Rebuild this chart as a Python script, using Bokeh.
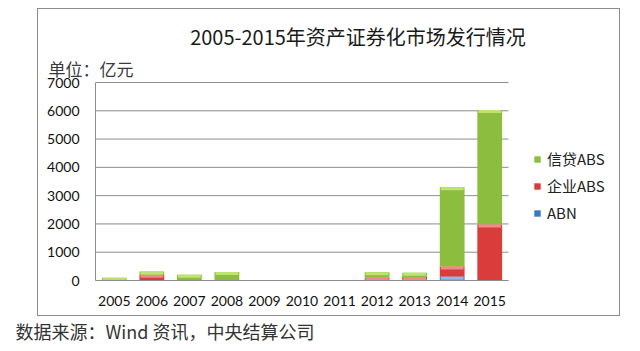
from bokeh.plotting import figure
from bokeh.models import (ColumnDataSource, Title, Legend, LegendItem, InlineStyleSheet,
                          FixedTicker, Range1d)
from bokeh.embed import file_html
from bokeh.resources import INLINE

# ---------------- data ----------------
years = ["2005", "2006", "2007", "2008", "2009", "2010", "2011",
         "2012", "2013", "2014", "2015"]
abn = [0, 0, 0, 0, 0, 0, 0, 40, 40, 130, 10]
qiye_abs = [30, 200, 20, 0, 0, 0, 0, 60, 80, 365, 1970]
xindai_abs = [70, 115, 180, 300, 0, 0, 0, 190, 155, 2800, 4050]
y_ticks = [0, 1000, 2000, 3000, 4000, 5000, 6000, 7000]

series_names = ["ABN", "企业ABS", "信贷ABS"]
title_text = "2005-2015年资产证券化市场发行情况"
unit_text = "单位：亿元"
source_text = "数据来源：Wind 资讯，中央结算公司"

# ---------------- styles ----------------
W, H = 640, 351
FL, FR, FT, FB = 95, 620, 81, 280   # frame edges (frame also holds the legend)
BARS_R = 508                        # right end of the category area
fill_colors = ["#3b78c4", "#d93c3a", "#8dbd3e"]
light_colors = ["#8fb9ec", "#f08a88", "#bde46e"]
grid_color = "#8c8c8c"
CJK = "Noto Sans CJK SC"
NUM = "Lato"

n = len(years)
idx = list(range(n))
src = ColumnDataSource(dict(x=idx, year=years, abn=abn, qiye=qiye_abs, xindai=xindai_abs))

# category area spans n slots over (BARS_R - FL) px; extra room on the right for the legend
slot_px = (BARS_R - FL) / n
x_end = n - 0.5 + (FR - BARS_R) / slot_px
# top of frame one pixel above the last grid line, so that line is fully drawn
y_end = y_ticks[-1] * (FB - FT) / (FB - FT - 1)
units_per_px = y_end / (FB - FT)

box_css = InlineStyleSheet(css="""
:host { position: relative; }
:host::after {
  content: ""; position: absolute; pointer-events: none;
  left: 37px; top: 8px; width: 583px; height: 308px;
  border: 1px solid #8c8c8c; box-sizing: border-box;
}
""")

p = figure(width=W, height=H, x_range=Range1d(-0.5, x_end),
           y_range=Range1d(0, y_end), output_backend="svg", toolbar_location=None,
           min_border_left=FL, min_border_right=W - FR,
           min_border_top=FT, min_border_bottom=H - FB,
           stylesheets=[box_css])
p.outline_line_color = None
p.background_fill_color = "white"
p.border_fill_color = "white"
p.xgrid.grid_line_color = None
p.ygrid.grid_line_color = None

# horizontal grid lines over the category area only
gsrc = ColumnDataSource(dict(y=y_ticks, x0=[-0.5] * len(y_ticks), x1=[n - 0.5] * len(y_ticks)))
p.segment(x0="x0", x1="x1", y0="y", y1="y", line_color=grid_color, line_width=1, source=gsrc)

BAR_W = 0.66
renderers = p.vbar_stack(["abn", "qiye", "xindai"], x="x", width=BAR_W,
                         color=fill_colors, line_color=None, source=src)

# light band at the top of each non-empty segment (derived from the data)
cols = [abn, qiye_abs, xindai_abs]
for k in range(3):
    xs, tops, bots = [], [], []
    for i in idx:
        seg = cols[k][i]
        if seg > 0:
            top = sum(c[i] for c in cols[:k + 1])
            xs.append(i)
            tops.append(top)
            bots.append(top - min(seg, 3 * units_per_px))
    if xs:
        hs = ColumnDataSource(dict(x=xs, top=tops, bottom=bots))
        p.vbar(x="x", top="top", bottom="bottom", width=BAR_W * 0.92,
               fill_color=light_colors[k], line_color=None, source=hs)

# axes
p.xaxis.ticker = FixedTicker(ticks=idx)
p.xaxis.major_label_overrides = {i: y for i, y in zip(idx, years)}
p.xaxis.bounds = (-0.5, n - 0.5)
p.yaxis.ticker = FixedTicker(ticks=y_ticks)
p.yaxis.bounds = (0, y_ticks[-1])
for ax in (p.xaxis[0], p.yaxis[0]):
    ax.axis_line_color = grid_color
    ax.major_tick_line_color = None
    ax.minor_tick_line_color = None
    ax.major_tick_in = 0
    ax.major_tick_out = 0
    ax.major_label_text_font = NUM
    ax.major_label_text_font_size = "14px"
    ax.major_label_text_color = "#111111"
p.yaxis.major_label_standoff = 16
p.xaxis.major_label_standoff = 15

# texts in the side panels
p.add_layout(Title(text=unit_text, align="left", offset=48 - FL, standoff=1,
                   text_font=CJK, text_font_size="17px", text_font_style="normal",
                   text_color="#3a3a3a"), "above")
p.add_layout(Title(text=title_text, align="center", offset=350 - (FL + FR) / 2,
                   standoff=6, text_font=CJK, text_font_size="20px",
                   text_font_style="normal", text_color="#1a1a1a"), "above")
p.add_layout(Title(text=source_text, align="left", offset=15 - FL, standoff=14,
                   text_font=CJK, text_font_size="18px", text_font_style="normal",
                   text_color="#333333"), "below")

# legend inside the (widened) frame
items = [LegendItem(label=series_names[k], renderers=[renderers[k]]) for k in (2, 1, 0)]
legend = Legend(items=items, location=(533 - FL, FB - 223), orientation="vertical",
                glyph_width=8, glyph_height=8, label_height=20, spacing=6,
                label_standoff=6, padding=0, margin=0, border_line_color=None,
                background_fill_alpha=0, label_text_font=CJK,
                label_text_font_size="15px", label_text_color="#222222")
p.add_layout(legend)

open("out.html", "w").write(file_html(p, INLINE))
